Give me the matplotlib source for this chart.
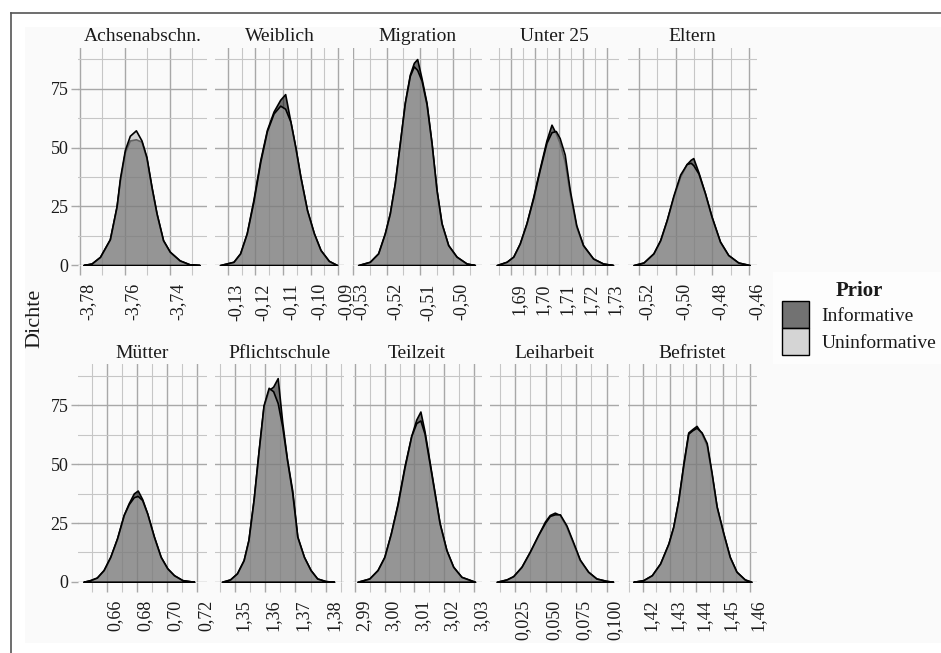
import matplotlib
matplotlib.use("Agg")
import numpy as np
import matplotlib.pyplot as plt
from matplotlib.patches import Rectangle, Patch
from matplotlib.lines import Line2D
from matplotlib.transforms import ScaledTranslation

plt.rcParams.update({
    "font.family": ["Liberation Serif", "DejaVu Serif"],
    "text.color": "#1a1a1a",
    "xtick.color": "#1a1a1a",
    "ytick.color": "#1a1a1a",
})

# posterior densities per coefficient (x grid, informative prior, uninformative prior)
titles = ["Achsenabschn.", "Weiblich", "Migration", "Unter 25", "Eltern",
          "Mütter", "Pflichtschule", "Teilzeit", "Leiharbeit", "Befristet"]

achsen_x = [-3.7785, -3.7748, -3.7711, -3.7667, -3.7637, -3.7622, -3.7600, -3.7578, -3.7551,
            -3.7526, -3.7504, -3.7481, -3.7459, -3.7430, -3.7400, -3.7356, -3.7311, -3.7267]
achsen_inf = [0, 0.7, 3.5, 11, 25, 36, 48, 53, 53.5, 52.5, 45.5, 33, 22, 10.6, 5.7, 2, 0.3, 0]
achsen_uninf = [0, 0.7, 3.5, 11, 25, 37, 49, 55, 57.3, 53, 46, 33, 22, 10.6, 5.7, 2, 0.3, 0]

weibl_x = [-0.1328, -0.1279, -0.1255, -0.1231, -0.1207, -0.1182, -0.1158, -0.1134, -0.1110,
           -0.1092, -0.1073, -0.1055, -0.1037, -0.1013, -0.0988, -0.0964, -0.0934, -0.0904]
weibl_inf = [0, 1.4, 5, 13.5, 27.7, 44.7, 57.5, 65.3, 70.3, 72.7, 61, 50, 37.6, 23.4, 13.5, 6.4, 1.8, 0]
weibl_uninf = [0, 1.4, 5, 13.5, 27, 44, 57, 64.5, 67.8, 66.5, 61, 50, 37.6, 23.4, 13.5, 6.4, 1.8, 0]

migr_x = [-0.5285, -0.5250, -0.5225, -0.5205, -0.5190, -0.5175, -0.5160, -0.5145, -0.5130, -0.5118,
          -0.5108, -0.5095, -0.5080, -0.5065, -0.5050, -0.5035, -0.5015, -0.4990, -0.4960, -0.4935]
migr_inf = [0, 1.4, 5, 13.5, 22, 34.8, 51.8, 69, 81, 86, 87.6, 79.5, 69, 52, 32, 17.8, 8.5, 3.6, 0.7, 0]
migr_uninf = [0, 1.4, 5, 13.5, 22, 34.8, 51.8, 69, 80.5, 84.5, 83, 78.5, 68.5, 52, 32, 17.8, 8.5, 3.6, 0.7, 0]

u25_x = [1.6841, 1.6882, 1.6910, 1.6937, 1.6965, 1.6993, 1.7020, 1.7048, 1.7069,
         1.7087, 1.7103, 1.7124, 1.7145, 1.7172, 1.7200, 1.7242, 1.7283, 1.7325]
u25_inf = [0, 1.4, 3.6, 9.2, 17.8, 29, 41, 53, 59.7, 56, 52, 44, 30.5, 16.3, 8.5, 2.8, 0.7, 0]
u25_uninf = [0, 1.4, 3.6, 9.2, 17.8, 28.5, 40.5, 52, 56.5, 57, 54, 47, 32, 17, 8.5, 2.8, 0.7, 0]

eltern_x = [-0.5231, -0.5176, -0.5122, -0.5085, -0.5049, -0.5013, -0.4976, -0.4940, -0.4918,
            -0.4904, -0.4876, -0.4840, -0.4804, -0.4758, -0.4713, -0.4658, -0.4595]
eltern_inf = [0, 1.1, 5, 10.6, 19.2, 29, 37.6, 43, 44.8, 45.5, 39.5, 30.5, 20.6, 10, 4.3, 1.1, 0]
eltern_uninf = [0, 1.1, 5, 10.6, 19.2, 29.5, 38.5, 43, 43.5, 42.5, 39, 30.5, 20.6, 10, 4.3, 1.1, 0]

muetter_x = [0.6444, 0.6489, 0.6533, 0.6578, 0.6622, 0.6667, 0.6711, 0.6744, 0.6778,
             0.6804, 0.6833, 0.6867, 0.6911, 0.6956, 0.7000, 0.7044, 0.7100, 0.7178]
muetter_inf = [0, 0.7, 1.8, 5, 10.6, 18.5, 28.4, 33.4, 37.6, 38.8, 35.2, 29, 19.2, 10.6, 5.7, 2.8, 0.7, 0]
muetter_uninf = [0, 0.7, 1.8, 5, 10.6, 18.5, 28.4, 33, 36, 36.5, 34.8, 29, 19.2, 10.6, 5.7, 2.8, 0.7, 0]

pflicht_x = [1.3456, 1.3483, 1.3506, 1.3528, 1.3544, 1.3561, 1.3578, 1.3594, 1.3611, 1.3626,
             1.3641, 1.3656, 1.3672, 1.3689, 1.3706, 1.3728, 1.3750, 1.3772, 1.3800, 1.3828]
pflicht_inf = [0, 1, 3.6, 9.2, 17.8, 34.8, 56, 74.6, 81.5, 83, 86.6, 68, 51.8, 39, 19.2, 10.6, 5, 1.4, 0.3, 0]
pflicht_uninf = [0, 1, 3.6, 9.2, 17.8, 34.8, 56, 75, 82.5, 81, 76, 66, 51.8, 38, 19.2, 10.6, 5, 1.4, 0.3, 0]

teilz_x = [2.9907, 2.9947, 2.9975, 2.9998, 3.0020, 3.0043, 3.0066, 3.0089, 3.0106,
           3.0120, 3.0134, 3.0151, 3.0168, 3.0185, 3.0208, 3.0231, 3.0259, 3.0305]
teilz_inf = [0, 1.4, 5, 10.6, 20.6, 33.4, 49, 62, 69, 72.4, 64, 51, 38, 25, 13.5, 6.4, 2.1, 0]
teilz_uninf = [0, 1.4, 5, 10.6, 20.6, 33, 48.5, 62, 67.5, 68.6, 63, 50.4, 37.6, 24.9, 13.5, 6.4, 2.1, 0]

leih_x = [0.0101, 0.0182, 0.0236, 0.0304, 0.0372, 0.0440, 0.0495, 0.0535, 0.0576,
          0.0617, 0.0671, 0.0726, 0.0780, 0.0848, 0.0916, 0.0997, 0.1052]
leih_inf = [0, 1, 2.4, 6.4, 12.8, 19.9, 25.6, 28.4, 29.4, 28.4, 23.4, 16.3, 9.2, 4.3, 1.4, 0.4, 0]
leih_uninf = [0, 1, 2.4, 6.4, 12.8, 19.9, 25, 28, 28.7, 28.7, 24, 16.8, 9.5, 4.3, 1.4, 0.4, 0]

befr_x = [1.4165, 1.4202, 1.4234, 1.4265, 1.4296, 1.4314, 1.4333, 1.4352, 1.4370, 1.4386,
          1.4401, 1.4420, 1.4439, 1.4457, 1.4476, 1.4501, 1.4525, 1.4550, 1.4581, 1.4606]
befr_inf = [0, 0.7, 2.8, 7.8, 16.3, 23.4, 34.8, 50.4, 63.5, 65, 66.3, 63, 58, 46, 32, 20.6, 10.6, 4.3, 1, 0]
befr_uninf = [0, 0.7, 2.8, 7.8, 16.3, 23.4, 34.8, 50, 63, 64.5, 65.5, 63.5, 59, 46.5, 32, 20.6, 10.6, 4.3, 1, 0]

# x tick labels per panel (German decimal comma)
xtick_labels = [
    ["-3,78", "-3,76", "-3,74"],
    ["-0,13", "-0,12", "-0,11", "-0,10", "-0,09"],
    ["-0,53", "-0,52", "-0,51", "-0,50"],
    ["1,69", "1,70", "1,71", "1,72", "1,73"],
    ["-0,52", "-0,50", "-0,48", "-0,46"],
    ["0,66", "0,68", "0,70", "0,72"],
    ["1,35", "1,36", "1,37", "1,38"],
    ["2,99", "3,00", "3,01", "3,02", "3,03"],
    ["0,025", "0,050", "0,075", "0,100"],
    ["1,42", "1,43", "1,44", "1,45", "1,46"],
]
ytick_values = [0, 25, 50, 75]
prior_labels = ["Informative", "Uninformative"]

series = [
    (achsen_x, achsen_inf, achsen_uninf),
    (weibl_x, weibl_inf, weibl_uninf),
    (migr_x, migr_inf, migr_uninf),
    (u25_x, u25_inf, u25_uninf),
    (eltern_x, eltern_inf, eltern_uninf),
    (muetter_x, muetter_inf, muetter_uninf),
    (pflicht_x, pflicht_inf, pflicht_uninf),
    (teilz_x, teilz_inf, teilz_uninf),
    (leih_x, leih_inf, leih_uninf),
    (befr_x, befr_inf, befr_uninf),
]

# free x scales, limits of each panel
xlims = [(-3.7809, -3.7234), (-0.1346, -0.0879), (-0.5302, -0.4915), (1.6813, 1.7350),
         (-0.5264, -0.4558), (0.6408, 0.7263), (1.3433, 1.3861), (2.9890, 3.0327),
         (0.0046, 0.1101), (1.4143, 1.4625)]

FILL_INF = (0.0, 0.0, 0.0, 0.55)
FILL_UNINF = (0.706, 0.706, 0.706, 0.55)
BG = "#FAFAFA"
GRID_MAJ = "#A8A8A8"
GRID_MIN = "#C6C6C6"

W, H = 941, 653
fig = plt.figure(figsize=(W / 100, H / 100), dpi=100, facecolor="white")
fig.add_artist(Rectangle((25 / W, 1 - 643 / H), (W - 25) / W, (643 - 27) / H,
                         transform=fig.transFigure, facecolor=BG, edgecolor="none", zorder=-5))
fig.add_artist(Line2D([10.5 / W, 1], [1 - 12.5 / H] * 2, color="#555555", lw=1.2))
fig.add_artist(Line2D([10.5 / W] * 2, [0, 1 - 12.5 / H], color="#555555", lw=1.2))

col_left = [78, 215, 352.5, 490, 627.5]
row_top = [47.8, 364.5]
pw, ph = 129, 217.3

for i, (title, (xs, inf, uninf)) in enumerate(zip(titles, series)):
    r, c = divmod(i, 5)
    ax = fig.add_axes([col_left[c] / W, 1 - (row_top[r] + ph) / H, pw / W, ph / H])
    ax.set_facecolor(BG)
    for s in ax.spines.values():
        s.set_visible(False)

    ax.fill_between(xs, inf, 0, facecolor=FILL_INF, edgecolor="black", lw=1.2,
                    joinstyle="round", zorder=3)
    ax.fill_between(xs, uninf, 0, facecolor=FILL_UNINF, edgecolor="black", lw=1.2,
                    joinstyle="round", zorder=4)

    ax.set_xlim(*xlims[i])
    ax.set_ylim(0, 92.4)

    majors = [float(t.replace(",", ".")) for t in xtick_labels[i]]
    step = majors[1] - majors[0]
    minors = np.arange(majors[0] - step / 2, xlims[i][1], step)
    minors = minors[(minors > xlims[i][0]) & (minors < xlims[i][1])]
    ax.set_xticks(majors)
    ax.set_xticklabels(xtick_labels[i], rotation=90, fontsize=13)
    ax.set_xticks(minors, minor=True)
    ax.set_yticks(ytick_values)
    ax.set_yticks([12.5, 37.5, 62.5, 87.5], minor=True)

    ax.grid(which="major", color=GRID_MAJ, lw=1.0, zorder=0)
    ax.grid(which="minor", color=GRID_MIN, lw=0.8, zorder=0)
    ax.set_axisbelow(True)

    ax.tick_params(axis="x", which="major", length=7.2, width=1.0, color=GRID_MAJ, pad=5.8)
    ax.tick_params(axis="x", which="minor", length=7.2, width=0.8, color=GRID_MIN)
    for lab in ax.get_xticklabels():
        lab.set_transform(lab.get_transform() + ScaledTranslation(0.08, 0, fig.dpi_scale_trans))

    if c == 0:
        ax.tick_params(axis="y", which="major", length=5, width=1.0, color=GRID_MAJ,
                       pad=2, labelsize=13)
        ax.tick_params(axis="y", which="minor", length=0)
    else:
        ax.tick_params(axis="y", which="both", length=0, labelleft=False)

    ax.set_title(title, fontsize=14, pad=5)

fig.text(35 / W, 1 - 318 / H, "Dichte", rotation=90, ha="center", va="center", fontsize=16)

handles = [Patch(facecolor=FILL_INF, edgecolor="black", lw=1.0),
           Patch(facecolor=FILL_UNINF, edgecolor="black", lw=1.0)]
leg = fig.legend(handles, prior_labels, loc="center left", bbox_to_anchor=(773 / W, 1 - 318 / H),
                 fontsize=14, title="Prior", title_fontproperties={"weight": "bold", "size": 15},
                 frameon=True, fancybox=False, facecolor="white", edgecolor="none",
                 handlelength=1.4, handleheight=1.75, labelspacing=0.0, handletextpad=0.65,
                 borderpad=0.45, borderaxespad=0)
leg.get_frame().set_linewidth(0)

fig.savefig("out.png", dpi=100, facecolor="white")
